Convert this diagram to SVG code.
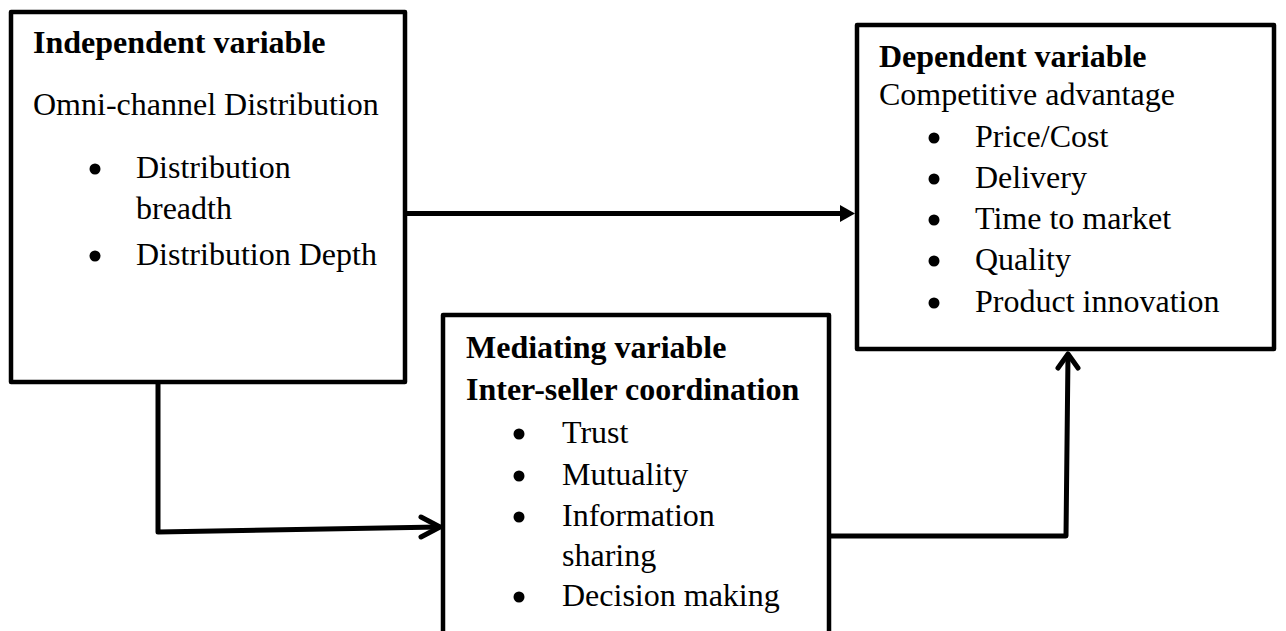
<svg xmlns="http://www.w3.org/2000/svg" width="1286" height="631" viewBox="0 0 1286 631">
<style>
.box{fill:#fff;stroke:#000;stroke-width:4.5;stroke-linejoin:round}
.t{font-family:"Liberation Serif","Times New Roman",serif;font-size:32px;fill:#000}
.b{font-weight:bold}
.bul{fill:#000}
.conn{fill:none;stroke:#000;stroke-width:5;stroke-linejoin:round;stroke-linecap:round}
.chev{fill:none;stroke:#000;stroke-width:5;stroke-linecap:round;stroke-linejoin:round}
</style>
<rect width="1286" height="631" fill="#fff"/>
<g id="independent">
<rect class="box" x="11" y="12" width="394" height="370"/>
<text class="t b" x="33" y="53">Independent variable</text>
<text class="t" x="33" y="115">Omni-channel Distribution</text>
<circle class="bul" cx="95" cy="169" r="5.5"/>
<text class="t" x="136" y="178">Distribution</text>
<text class="t" x="136" y="219">breadth</text>
<circle class="bul" cx="95" cy="256" r="5.5"/>
<text class="t" x="136" y="265">Distribution Depth</text>
</g>
<g id="dependent">
<rect class="box" x="857" y="25" width="417" height="324"/>
<text class="t b" x="879" y="67">Dependent variable</text>
<text class="t" x="879" y="105">Competitive advantage</text>
<circle class="bul" cx="934" cy="138" r="5.5"/>
<text class="t" x="975" y="147">Price/Cost</text>
<circle class="bul" cx="934" cy="179" r="5.5"/>
<text class="t" x="975" y="188">Delivery</text>
<circle class="bul" cx="934" cy="220" r="5.5"/>
<text class="t" x="975" y="229">Time to market</text>
<circle class="bul" cx="934" cy="261" r="5.5"/>
<text class="t" x="975" y="270">Quality</text>
<circle class="bul" cx="934" cy="303" r="5.5"/>
<text class="t" x="975" y="312">Product innovation</text>
</g>
<g id="mediating">
<rect class="box" x="443" y="315" width="386" height="340"/>
<text class="t b" x="466" y="358">Mediating variable</text>
<text class="t b" x="466" y="400">Inter-seller coordination</text>
<circle class="bul" cx="519" cy="434" r="5.5"/>
<text class="t" x="562" y="443">Trust</text>
<circle class="bul" cx="519" cy="476" r="5.5"/>
<text class="t" x="562" y="485">Mutuality</text>
<circle class="bul" cx="519" cy="517" r="5.5"/>
<text class="t" x="562" y="526">Information</text>
<text class="t" x="562" y="566">sharing</text>
<circle class="bul" cx="519" cy="597" r="5.5"/>
<text class="t" x="562" y="606">Decision making</text>
</g>
<g id="connectors">
<line class="conn" x1="407" y1="213.5" x2="842" y2="213.5" stroke-linecap="butt"/>
<polygon points="840,205 855,213.5 840,222" fill="#000"/>
<polyline class="conn" points="158,384 158,532 439,527"/>
<polyline class="chev" points="421,517 440,527 421,537"/>
<polyline class="conn" points="831,536 1066,536 1068,355"/>
<polyline class="chev" points="1058,368 1068,354 1078,368"/>
</g>
</svg>
